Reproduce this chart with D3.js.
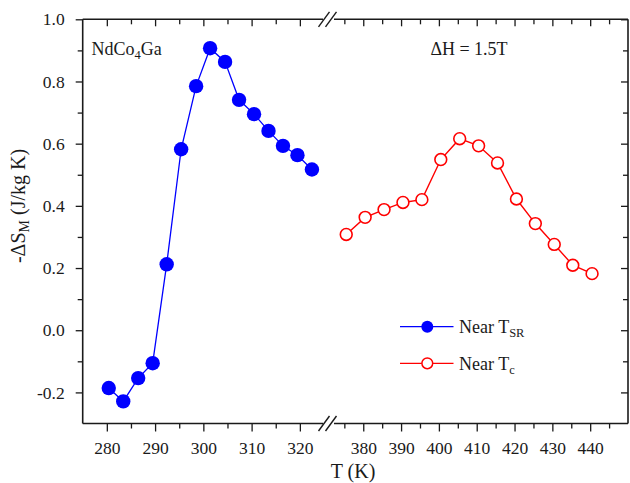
<!DOCTYPE html>
<html>
<head>
<meta charset="utf-8">
<script src="https://cdn.jsdelivr.net/npm/d3@7/dist/d3.min.js"></script>
<style>
  html, body { margin: 0; padding: 0; background: #fff; }
  svg, svg text { font-family: "Liberation Serif", "DejaVu Serif", serif !important; }
</style>
</head>
<body>
<svg id="chart" width="630" height="483"></svg>
<script>
// Magnetic entropy change of NdCo4Ga for ΔH = 1.5 T
const tsrTemps = [280.4, 283.4, 286.5, 289.5, 292.4, 295.4, 298.5, 301.4, 304.5, 307.4, 310.5, 313.5, 316.5, 319.5, 322.5];
const tsrValues = [-0.186, -0.229, -0.154, -0.106, 0.212, 0.582, 0.785, 0.907, 0.863, 0.741, 0.695, 0.641, 0.593, 0.563, 0.517];
const tcTemps = [375.5, 380.5, 385.5, 390.5, 395.5, 400.5, 405.5, 410.5, 415.5, 420.5, 425.5, 430.5, 435.4, 440.5];
const tcValues = [0.308, 0.363, 0.388, 0.411, 0.420, 0.549, 0.616, 0.593, 0.538, 0.422, 0.343, 0.276, 0.209, 0.182];

const yTicks = [-0.2, 0.0, 0.2, 0.4, 0.6, 0.8, 1.0];
const yMinorTicks = [-0.1, 0.1, 0.3, 0.5, 0.7, 0.9];
const xLeftTicks = [280, 290, 300, 310, 320];
const xLeftMinor = [285, 295, 305, 315];
const xRightTicks = [380, 390, 400, 410, 420, 430, 440];
const xRightMinor = [375, 385, 395, 405, 415, 425, 435, 445];

const serif = '"Liberation Serif", "DejaVu Serif", serif';
const svg = d3.select("#chart");
const plotL = 82.7, plotR = 628, plotT = 19.3, plotB = 423.5;
const breakL = 323, breakR = 334;

const y = d3.scaleLinear().domain([-0.3, 1.0]).range([plotB, plotT]);
const xL = d3.scaleLinear().domain([275, 325]).range([plotL, 324]);
const xR = d3.scaleLinear().domain([372, 450]).range([333, plotR]);

const ink = "#1a1a1a";
const fmt = v => v.toFixed(1);
const xfmt = v => String(v);

function styleAxis(g, fs) {
  g.attr("font-family", serif).attr("font-size", fs);
  g.select(".domain").remove();
  g.selectAll("line").attr("stroke", ink).attr("stroke-width", 1.3);
  g.selectAll("text").attr("fill", ink).attr("font-family", serif).attr("font-size", fs);
}

// bottom axis (outward ticks) and top axis (inward ticks)
[[xL, xLeftTicks, xLeftMinor], [xR, xRightTicks, xRightMinor]].forEach(([sc, maj, mn]) => {
  svg.append("g").attr("transform", `translate(0,${plotB})`)
    .call(d3.axisBottom(sc).tickValues(maj).tickFormat(xfmt).tickSize(8).tickPadding(10.5))
    .call(g => styleAxis(g, 17.5));
  svg.append("g").attr("transform", `translate(0,${plotB})`)
    .call(d3.axisBottom(sc).tickValues(mn).tickFormat("").tickSize(5))
    .call(g => styleAxis(g, 17.5));
  svg.append("g").attr("transform", `translate(0,${plotT})`)
    .call(d3.axisTop(sc).tickValues(maj).tickFormat("").tickSize(-7))
    .call(g => styleAxis(g, 17.5));
  svg.append("g").attr("transform", `translate(0,${plotT})`)
    .call(d3.axisTop(sc).tickValues(mn).tickFormat("").tickSize(-5))
    .call(g => styleAxis(g, 17.5));
});

// left axis (outward ticks)
svg.append("g").attr("transform", `translate(${plotL},0)`)
  .call(d3.axisLeft(y).tickValues(yTicks).tickFormat(fmt).tickSize(7).tickPadding(11))
  .call(g => styleAxis(g, 17.5));
svg.append("g").attr("transform", `translate(${plotL},0)`)
  .call(d3.axisLeft(y).tickValues(yMinorTicks).tickFormat("").tickSize(5))
  .call(g => styleAxis(g, 17.5));
// right axis (inward ticks)
svg.append("g").attr("transform", `translate(${plotR},0)`)
  .call(d3.axisRight(y).tickValues(yTicks).tickFormat("").tickSize(-7))
  .call(g => styleAxis(g, 17.5));
svg.append("g").attr("transform", `translate(${plotR},0)`)
  .call(d3.axisRight(y).tickValues(yMinorTicks).tickFormat("").tickSize(-5))
  .call(g => styleAxis(g, 17.5));

// frame with a break on the temperature axes
const frame = svg.append("g").attr("stroke", ink).attr("stroke-width", 1.6).attr("fill", "none");
frame.append("line").attr("x1", plotL).attr("x2", plotL).attr("y1", plotT).attr("y2", plotB);
frame.append("line").attr("x1", plotR).attr("x2", plotR).attr("y1", plotT).attr("y2", plotB);
[plotT, plotB].forEach(yy => {
  frame.append("line").attr("x1", plotL).attr("x2", breakL).attr("y1", yy).attr("y2", yy);
  frame.append("line").attr("x1", breakR).attr("x2", plotR).attr("y1", yy).attr("y2", yy);
  [[318.5, 329.5], [325.5, 336.5]].forEach(([a, b]) => {
    frame.append("line").attr("x1", a).attr("y1", yy + 7.5).attr("x2", b).attr("y2", yy - 7.5)
      .attr("stroke-width", 1.4);
  });
});

// series
const blue = "#0000ff", red = "#ff0000";
const tsrData = tsrTemps.map((t, i) => [t, tsrValues[i]]);
const tcData = tcTemps.map((t, i) => [t, tcValues[i]]);

svg.append("path").datum(tsrData)
  .attr("d", d3.line().x(d => xL(d[0])).y(d => y(d[1])))
  .attr("fill", "none").attr("stroke", blue).attr("stroke-width", 1.3);
svg.append("path").datum(tcData)
  .attr("d", d3.line().x(d => xR(d[0])).y(d => y(d[1])))
  .attr("fill", "none").attr("stroke", red).attr("stroke-width", 1.4);

svg.append("g").selectAll("circle").data(tsrData).join("circle")
  .attr("cx", d => xL(d[0])).attr("cy", d => y(d[1])).attr("r", 7.2)
  .attr("fill", blue);
svg.append("g").selectAll("circle").data(tcData).join("circle")
  .attr("cx", d => xR(d[0])).attr("cy", d => y(d[1])).attr("r", 5.9)
  .attr("fill", "#fff").attr("stroke", red).attr("stroke-width", 1.6);

// annotations
const txt = (x, yy, size, anchor) => svg.append("text").attr("x", x).attr("y", yy)
  .attr("text-anchor", anchor || "start").attr("fill", ink)
  .attr("font-family", serif).attr("font-size", size);

const t1 = txt(91.5, 54.5, 18);
t1.append("tspan").text("NdCo");
t1.append("tspan").text("4").attr("dy", 4).attr("font-size", 12.5);
t1.append("tspan").text("Ga").attr("dy", -4);

txt(469, 54.5, 18, "middle").text("ΔH = 1.5T");

// axis titles
txt(353, 478, 20, "middle").text("T (K)");
const yt = svg.append("text").attr("transform", "translate(24.5,206) rotate(-90)")
  .attr("text-anchor", "middle").attr("fill", ink)
  .attr("font-family", serif).attr("font-size", 20);
yt.append("tspan").text("-ΔS");
yt.append("tspan").text("M").attr("dy", 4).attr("font-size", 14);
yt.append("tspan").text(" (J/kg K)").attr("dy", -4);

// legend
const legend = [
  { y: 326.7, color: blue, filled: true, main: "Near T", sub: "SR" },
  { y: 363.3, color: red, filled: false, main: "Near T", sub: "c" }
];
legend.forEach(d => {
  svg.append("line").attr("x1", 400).attr("x2", 453.5).attr("y1", d.y).attr("y2", d.y)
    .attr("stroke", d.color).attr("stroke-width", 1.3);
  svg.append("circle").attr("cx", 427.3).attr("cy", d.y).attr("r", d.filled ? 6 : 5.4)
    .attr("fill", d.filled ? d.color : "#fff").attr("stroke", d.color)
    .attr("stroke-width", d.filled ? 0 : 1.5);
  const t = txt(459, d.y + 6.5, 18);
  t.append("tspan").text(d.main);
  t.append("tspan").text(d.sub).attr("dy", 4).attr("font-size", 12.5);
});
</script>
</body>
</html>
